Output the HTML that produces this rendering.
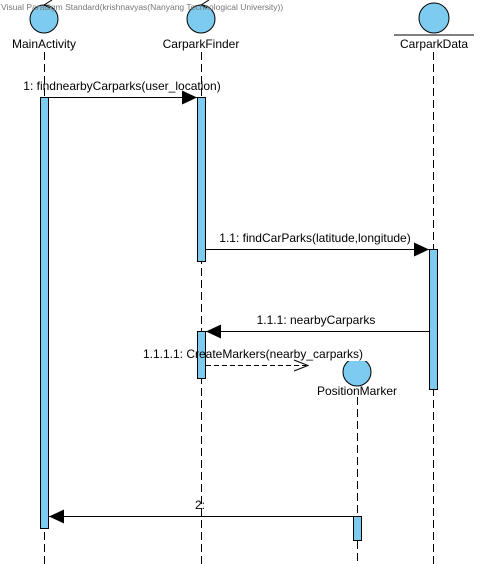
<!DOCTYPE html>
<html><head><meta charset="utf-8"><style>
html,body{margin:0;padding:0;background:#fff;}
svg{display:block;font-family:"Liberation Sans",sans-serif;}
</style></head><body>
<svg width="481" height="564" viewBox="0 0 481 564" xmlns="http://www.w3.org/2000/svg">
<defs>
<marker id="fa" markerWidth="16" markerHeight="14" refX="15" refY="7" orient="auto" markerUnits="userSpaceOnUse"><path d="M0,0 L15,7 L0,14 Z" fill="#000"/></marker>
</defs>
<g stroke="#000" stroke-width="1" stroke-dasharray="8,4" fill="none">
<line x1="44.5" y1="52" x2="44.5" y2="564"/>
<line x1="201.5" y1="52" x2="201.5" y2="564"/>
<line x1="433.5" y1="52" x2="433.5" y2="564"/>
<line x1="357.5" y1="397" x2="357.5" y2="564"/>
</g>
<g fill="#7ecbf0" stroke="#000" stroke-width="1">
<circle cx="44" cy="19" r="14"/>
<circle cx="201" cy="19" r="14"/>
<circle cx="434" cy="18" r="15"/>
<circle cx="357" cy="372" r="14"/>
</g>
<rect x="320" y="345" width="75" height="16" fill="#fff"/>
<g stroke="#000" stroke-width="1" fill="none">
<path d="M44,5 L52,0 M44,5 L50,8"/>
<path d="M201,5 L209,0 M201,5 L207,8"/>
<line x1="394" y1="35" x2="474" y2="35"/>
</g>
<text x="1" y="10" font-size="8.5" fill="#777">Visual Paradigm Standard(krishnavyas(Nanyang Technological University))</text>
<g font-size="12" fill="#000" text-anchor="middle">
<text x="44" y="48">MainActivity</text>
<text x="201" y="48">CarparkFinder</text>
<text x="434" y="48">CarparkData</text>
<text x="357" y="395">PositionMarker</text>
</g>
<g fill="#7ecbf0" stroke="#000" stroke-width="1">
<rect x="40.5" y="97.5" width="8" height="431"/>
<rect x="197.5" y="97.5" width="8" height="164"/>
<rect x="197.5" y="331.5" width="8" height="47"/>
<rect x="429.5" y="249.5" width="8" height="140"/>
<rect x="353.5" y="516.5" width="8" height="24"/>
</g>
<g stroke="#000" stroke-width="1" fill="none">
<line x1="49" y1="97.5" x2="197" y2="97.5" marker-end="url(#fa)"/>
<line x1="206" y1="249.5" x2="429" y2="249.5" marker-end="url(#fa)"/>
<line x1="429" y1="331.5" x2="206" y2="331.5" marker-end="url(#fa)"/>
<line x1="206" y1="365.5" x2="306" y2="365.5" stroke-dasharray="5,3"/>
<path d="M294,360 L308,365.5 L294,371"/>
<line x1="353" y1="516.5" x2="49" y2="516.5" marker-end="url(#fa)"/>
</g>
<g font-size="12" fill="#000" text-anchor="middle">
<text x="122" y="90">1: findnearbyCarparks(user_location)</text>
<text x="315" y="242">1.1: findCarParks(latitude,longitude)</text>
<text x="316" y="324">1.1.1: nearbyCarparks</text>
<text x="253" y="358">1.1.1.1: CreateMarkers(nearby_carparks)</text>
<text x="200" y="509">2:</text>
</g>
</svg>
</body></html>
